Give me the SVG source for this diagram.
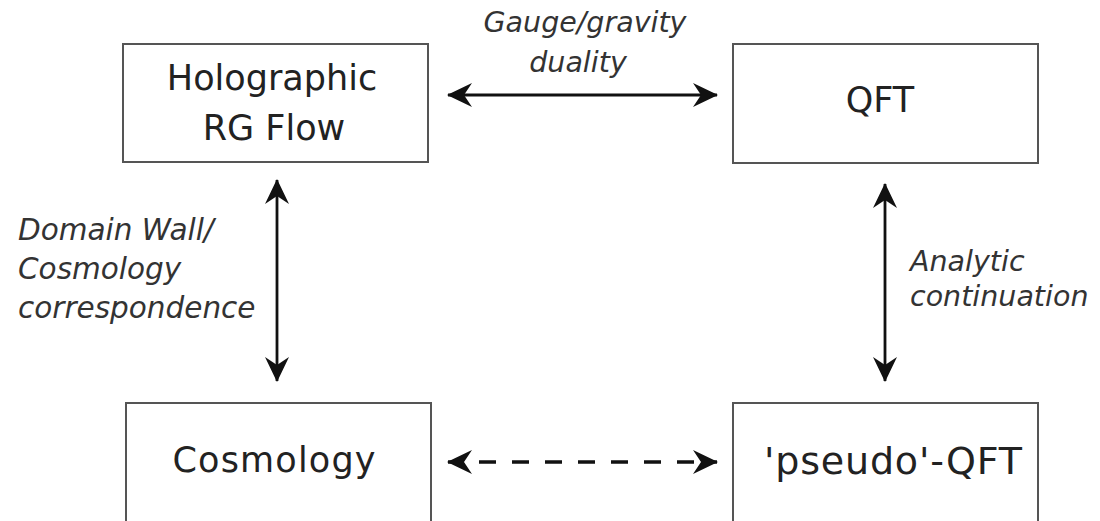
<svg xmlns="http://www.w3.org/2000/svg" width="1100" height="521" viewBox="0 0 1100 521">
<defs>
<style>
.box{fill:#fff;stroke:#555;stroke-width:2}
.t{font-family:"DejaVu Sans",sans-serif;font-size:35px;fill:#222;text-anchor:middle}
.l{font-family:"DejaVu Sans",sans-serif;font-style:italic;font-size:28.5px;fill:#333}
.c{stroke:#111;stroke-width:2.8;fill:none}
.d{stroke-dasharray:17 16;stroke-width:3.5}
</style>
<marker id="ah" markerUnits="userSpaceOnUse" viewBox="-26 -13 28 26" refX="0" refY="0" markerWidth="28" markerHeight="26" orient="auto-start-reverse">
<path d="M1,0 L-24,-12 L-16,0 L-24,12 Z" fill="#111"/>
</marker>
</defs>
<rect width="1100" height="521" fill="#fff"/>
<g id="holo">
<rect class="box" x="123" y="44" width="305" height="118"/>
<text class="t" x="272" y="90">Holographic</text>
<text class="t" x="274" y="140">RG Flow</text>
</g>
<g id="qft">
<rect class="box" x="733" y="44" width="305" height="119"/>
<text class="t" x="880" y="112">QFT</text>
</g>
<g id="cosmo">
<rect class="box" x="126" y="403" width="305" height="130"/>
<text class="t" x="274" y="472" textLength="203">Cosmology</text>
</g>
<g id="pseudo">
<rect class="box" x="733" y="403" width="305" height="130"/>
<text class="t" x="893" y="474" style="font-size:38px" textLength="258">'pseudo'-QFT</text>
</g>
<g id="connectors">
<line class="c" x1="448" y1="95" x2="717" y2="95" marker-start="url(#ah)" marker-end="url(#ah)"/>
<line class="c" x1="277" y1="180" x2="277" y2="381" marker-start="url(#ah)" marker-end="url(#ah)"/>
<line class="c" x1="885" y1="184" x2="885" y2="381" marker-start="url(#ah)" marker-end="url(#ah)"/>
<line class="c d" x1="448" y1="462" x2="717" y2="462" marker-start="url(#ah)" marker-end="url(#ah)" stroke-dashoffset="-31"/>
</g>
<g id="labels">
<text class="l" x="585" y="32" text-anchor="middle">Gauge/gravity</text>
<text class="l" x="578" y="72" text-anchor="middle">duality</text>
<text class="l" x="18" y="240" style="font-size:29.5px">Domain Wall/</text>
<text class="l" x="18" y="279" style="font-size:29.5px">Cosmology</text>
<text class="l" x="18" y="318" style="font-size:29.5px">correspondence</text>
<text class="l" x="910" y="271">Analytic</text>
<text class="l" x="910" y="306">continuation</text>
</g>
</svg>
